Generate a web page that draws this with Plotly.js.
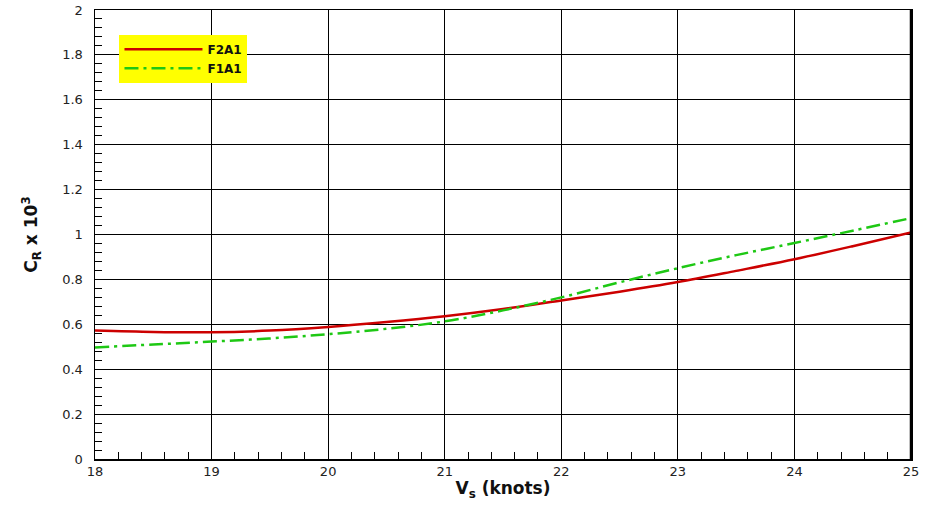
<!DOCTYPE html>
<html>
<head>
<meta charset="utf-8">
<script src="https://cdn.plot.ly/plotly-3.0.1.min.js"></script>
<style>html,body{margin:0;padding:0;background:#fff;}#chart{width:946px;height:511px;}</style>
</head>
<body>
<div id="chart"></div>
<script>
// Data
const speedKnots = [18, 18.5, 19, 19.5, 20, 20.5, 21, 21.5, 22, 22.5, 23, 23.5, 24, 24.5, 25];
const crF2A1 = [0.572, 0.566, 0.565, 0.572, 0.588, 0.610, 0.636, 0.668, 0.706, 0.745, 0.788, 0.838, 0.890, 0.948, 1.009];
const crF1A1 = [0.497, 0.510, 0.523, 0.537, 0.556, 0.580, 0.613, 0.662, 0.720, 0.787, 0.850, 0.908, 0.962, 1.017, 1.073];
const seriesNames = ['F2A1', 'F1A1'];
const xTickVals = [18, 19, 20, 21, 22, 23, 24, 25];
const yTickVals = [0, 0.2, 0.4, 0.6, 0.8, 1, 1.2, 1.4, 1.6, 1.8, 2];
const yTickText = ['0', '0.2', '0.4', '0.6', '0.8', '1', '1.2', '1.4', '1.6', '1.8', '2'];

const traces = [
  {
    x: speedKnots, y: crF2A1, name: seriesNames[0], type: 'scatter', mode: 'lines',
    line: {color: '#cc0000', width: 2.5, shape: 'spline', smoothing: 1}
  },
  {
    x: speedKnots, y: crF1A1, name: seriesNames[1], type: 'scatter', mode: 'lines',
    line: {color: '#1ec814', width: 2.5, shape: 'spline', smoothing: 1, dash: '14px,5px,3px,5px'}
  }
];

const tickFont = {family: 'DejaVu Sans, Verdana, sans-serif', size: 13, color: '#222'};
const titleFont = {family: 'DejaVu Sans, Verdana, sans-serif', size: 17, color: '#111'};

const layout = {
  width: 946, height: 511,
  margin: {l: 95, r: 35, t: 10, b: 52, pad: 0},
  paper_bgcolor: '#ffffff', plot_bgcolor: '#ffffff',
  showlegend: true,
  legend: {
    x: 0.03, y: 0.945, xanchor: 'left', yanchor: 'top',
    bgcolor: '#ffff00', borderwidth: 0,
    font: {family: 'DejaVu Sans, Verdana, sans-serif', size: 12, color: '#111', weight: 'bold'},
    itemwidth: 78, tracegroupgap: 0
  },
  xaxis: {
    range: [18, 25], tickvals: xTickVals, ticktext: xTickVals.map(String),
    showgrid: true, gridcolor: '#000', gridwidth: 1,
    showline: true, linecolor: '#000', linewidth: 1.5, mirror: true,
    ticks: 'inside', ticklen: 7, tickcolor: '#000', tickwidth: 1,
    minor: {dtick: 0.2, ticks: 'inside', ticklen: 7, tickcolor: '#000', tickwidth: 1, showgrid: false},
    zeroline: false, tickfont: tickFont,
    title: {text: '<b>V<sub>s</sub> (knots)</b>', font: titleFont, standoff: 4}
  },
  yaxis: {
    range: [0, 2], tickvals: yTickVals, ticktext: yTickText,
    showgrid: true, gridcolor: '#000', gridwidth: 1,
    showline: true, linecolor: '#000', linewidth: 1.5, mirror: true,
    ticks: 'inside', ticklen: 7, tickcolor: '#000', tickwidth: 1,
    minor: {dtick: 0.04, ticks: 'inside', ticklen: 7, tickcolor: '#000', tickwidth: 1, showgrid: false},
    zeroline: false, tickfont: tickFont, ticklabelstandoff: 8,
    title: {text: '<b>C<sub>R</sub> x 10<sup>3</sup></b>', font: titleFont, standoff: 20}
  },
  shapes: [
    {type: 'line', xref: 'paper', yref: 'paper', x0: 1, x1: 1, y0: 0, y1: 1, line: {color: '#000', width: 2.5}}
  ]
};

Plotly.newPlot('chart', traces, layout, {displayModeBar: false, staticPlot: true});
</script>
</body>
</html>
